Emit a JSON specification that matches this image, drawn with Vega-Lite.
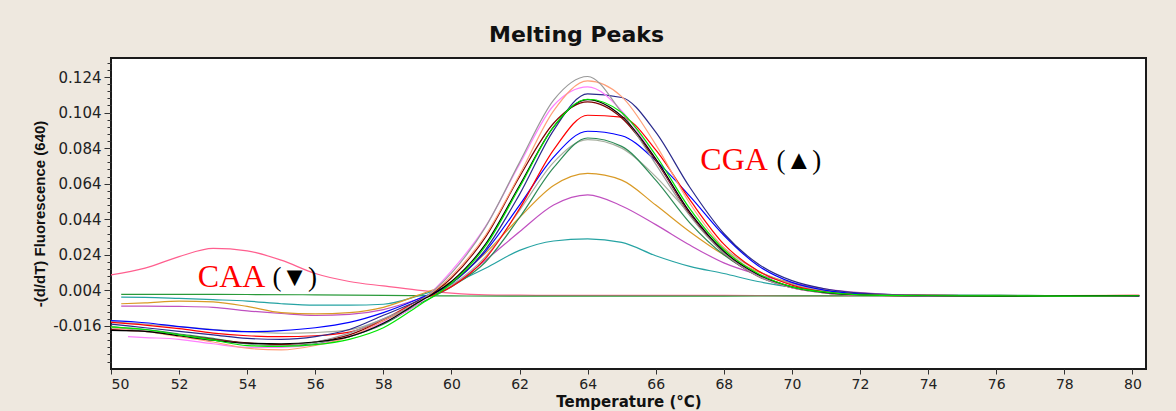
{
"$schema": "https://vega.github.io/schema/vega-lite/v6.json",
"width": 1035, "height": 311,
"autosize": {"type": "none"},
"padding": {"left": 111, "top": 58, "right": 30, "bottom": 42},
"background": "#EEE8DF",
"title": {"text": "Melting Peaks", "anchor": "start", "frame": "group", "dx": 378, "dy": 21, "offset": 15, "baseline": "alphabetic", "font": "DejaVu Sans", "fontSize": 22, "fontWeight": "bold", "color": "#111111"},
"config": {"view": {"fill": "white", "stroke": "#1a1a1a", "strokeWidth": 2}},
"datasets": {
"curves": [
{"s":"hotpink","t":50,"v":0.0127},{"s":"hotpink","t":51,"v":0.0165},{"s":"hotpink","t":52,"v":0.023},{"s":"hotpink","t":53,"v":0.0276},{"s":"hotpink","t":54,"v":0.0262},{"s":"hotpink","t":55,"v":0.021},{"s":"hotpink","t":56,"v":0.0135},{"s":"hotpink","t":57,"v":0.009},{"s":"hotpink","t":58,"v":0.0065},{"s":"hotpink","t":59,"v":0.0042},{"s":"hotpink","t":60,"v":0.0025},{"s":"hotpink","t":61,"v":0.0015},{"s":"hotpink","t":62,"v":0.0013},{"s":"hotpink","t":64,"v":0.0012},{"s":"hotpink","t":66,"v":0.0012},{"s":"hotpink","t":68,"v":0.0012},{"s":"hotpink","t":70,"v":0.0009},{"s":"hotpink","t":72,"v":0.001},{"s":"hotpink","t":74,"v":0.0009},{"s":"hotpink","t":76,"v":0.001},{"s":"hotpink","t":78,"v":0.001},{"s":"hotpink","t":80.2,"v":0.0012},
{"s":"green","t":50.3,"v":0.0018},{"s":"green","t":52,"v":0.0018},{"s":"green","t":54,"v":0.0017},{"s":"green","t":56,"v":0.0015},{"s":"green","t":58,"v":0.0012},{"s":"green","t":60,"v":0.0009},{"s":"green","t":62,"v":0.0008},{"s":"green","t":64,"v":0.0008},{"s":"green","t":66,"v":0.0008},{"s":"green","t":68,"v":0.0008},{"s":"green","t":70,"v":0.0009},{"s":"green","t":72,"v":0.0009},{"s":"green","t":74,"v":0.0008},{"s":"green","t":76,"v":0.0009},{"s":"green","t":78,"v":0.0009},{"s":"green","t":80.2,"v":0.0009},
{"s":"teal","t":50.3,"v":0.0002},{"s":"teal","t":51,"v":0.0001},{"s":"teal","t":52,"v":-0.0005},{"s":"teal","t":53,"v":-0.0012},{"s":"teal","t":54,"v":-0.002},{"s":"teal","t":55,"v":-0.0035},{"s":"teal","t":56,"v":-0.0043},{"s":"teal","t":57,"v":-0.0043},{"s":"teal","t":58,"v":-0.0038},{"s":"teal","t":59,"v":0.0008},{"s":"teal","t":60,"v":0.0075},{"s":"teal","t":61,"v":0.0165},{"s":"teal","t":62,"v":0.0265},{"s":"teal","t":63,"v":0.0318},{"s":"teal","t":64,"v":0.033},{"s":"teal","t":65,"v":0.031},{"s":"teal","t":66,"v":0.0235},{"s":"teal","t":67,"v":0.0175},{"s":"teal","t":68,"v":0.0135},{"s":"teal","t":69,"v":0.009},{"s":"teal","t":70,"v":0.0058},{"s":"teal","t":71,"v":0.0038},{"s":"teal","t":72,"v":0.0025},{"s":"teal","t":74,"v":0.0013},{"s":"teal","t":76,"v":0.0011},{"s":"teal","t":78,"v":0.001},{"s":"teal","t":80.2,"v":0.001},
{"s":"orchid","t":50.3,"v":-0.0048},{"s":"orchid","t":51,"v":-0.0048},{"s":"orchid","t":52,"v":-0.005},{"s":"orchid","t":53,"v":-0.0055},{"s":"orchid","t":54,"v":-0.0075},{"s":"orchid","t":55,"v":-0.009},{"s":"orchid","t":56,"v":-0.0101},{"s":"orchid","t":57,"v":-0.0095},{"s":"orchid","t":58,"v":-0.0068},{"s":"orchid","t":59,"v":-0.001},{"s":"orchid","t":60,"v":0.0065},{"s":"orchid","t":61,"v":0.021},{"s":"orchid","t":62,"v":0.037},{"s":"orchid","t":63,"v":0.052},{"s":"orchid","t":64,"v":0.0577},{"s":"orchid","t":65,"v":0.0515},{"s":"orchid","t":66,"v":0.041},{"s":"orchid","t":67,"v":0.0295},{"s":"orchid","t":68,"v":0.0195},{"s":"orchid","t":69,"v":0.013},{"s":"orchid","t":70,"v":0.0082},{"s":"orchid","t":71,"v":0.0048},{"s":"orchid","t":72,"v":0.0028},{"s":"orchid","t":74,"v":0.0012},{"s":"orchid","t":76,"v":0.001},{"s":"orchid","t":78,"v":0.001},{"s":"orchid","t":80.2,"v":0.0011},
{"s":"goldenrod","t":50.3,"v":-0.0035},{"s":"goldenrod","t":51,"v":-0.003},{"s":"goldenrod","t":52,"v":-0.002},{"s":"goldenrod","t":53,"v":-0.0025},{"s":"goldenrod","t":54,"v":-0.005},{"s":"goldenrod","t":55,"v":-0.0085},{"s":"goldenrod","t":56,"v":-0.0092},{"s":"goldenrod","t":57,"v":-0.0085},{"s":"goldenrod","t":58,"v":-0.0055},{"s":"goldenrod","t":59,"v":0.0012},{"s":"goldenrod","t":60,"v":0.009},{"s":"goldenrod","t":61,"v":0.025},{"s":"goldenrod","t":62,"v":0.045},{"s":"goldenrod","t":63,"v":0.063},{"s":"goldenrod","t":64,"v":0.0698},{"s":"goldenrod","t":65,"v":0.066},{"s":"goldenrod","t":66,"v":0.052},{"s":"goldenrod","t":67,"v":0.037},{"s":"goldenrod","t":68,"v":0.024},{"s":"goldenrod","t":69,"v":0.0145},{"s":"goldenrod","t":70,"v":0.008},{"s":"goldenrod","t":71,"v":0.004},{"s":"goldenrod","t":72,"v":0.002},{"s":"goldenrod","t":74,"v":0.0012},{"s":"goldenrod","t":76,"v":0.001},{"s":"goldenrod","t":78,"v":0.0011},{"s":"goldenrod","t":80.2,"v":0.0012},
{"s":"graygreen","t":50,"v":-0.0136},{"s":"graygreen","t":51,"v":-0.015},{"s":"graygreen","t":52,"v":-0.0164},{"s":"graygreen","t":53,"v":-0.018},{"s":"graygreen","t":54,"v":-0.0192},{"s":"graygreen","t":55,"v":-0.0201},{"s":"graygreen","t":56,"v":-0.0197},{"s":"graygreen","t":57,"v":-0.0182},{"s":"graygreen","t":58,"v":-0.012},{"s":"graygreen","t":59,"v":-0.002},{"s":"graygreen","t":60,"v":0.007},{"s":"graygreen","t":61,"v":0.023},{"s":"graygreen","t":62,"v":0.049},{"s":"graygreen","t":63,"v":0.076},{"s":"graygreen","t":64,"v":0.0888},{"s":"graygreen","t":65,"v":0.084},{"s":"graygreen","t":66,"v":0.068},{"s":"graygreen","t":67,"v":0.047},{"s":"graygreen","t":68,"v":0.028},{"s":"graygreen","t":69,"v":0.015},{"s":"graygreen","t":70,"v":0.0075},{"s":"graygreen","t":71,"v":0.0035},{"s":"graygreen","t":72,"v":0.0018},{"s":"graygreen","t":74,"v":0.0012},{"s":"graygreen","t":76,"v":0.001},{"s":"graygreen","t":78,"v":0.0011},{"s":"graygreen","t":80.2,"v":0.001},
{"s":"seagreen","t":50,"v":-0.017},{"s":"seagreen","t":51,"v":-0.018},{"s":"seagreen","t":52,"v":-0.0205},{"s":"seagreen","t":53,"v":-0.023},{"s":"seagreen","t":54,"v":-0.026},{"s":"seagreen","t":55,"v":-0.027},{"s":"seagreen","t":56,"v":-0.026},{"s":"seagreen","t":57,"v":-0.022},{"s":"seagreen","t":58,"v":-0.015},{"s":"seagreen","t":59,"v":-0.004},{"s":"seagreen","t":60,"v":0.006},{"s":"seagreen","t":61,"v":0.02},{"s":"seagreen","t":62,"v":0.045},{"s":"seagreen","t":63,"v":0.073},{"s":"seagreen","t":64,"v":0.0897},{"s":"seagreen","t":65,"v":0.085},{"s":"seagreen","t":66,"v":0.066},{"s":"seagreen","t":67,"v":0.042},{"s":"seagreen","t":68,"v":0.024},{"s":"seagreen","t":69,"v":0.0125},{"s":"seagreen","t":70,"v":0.006},{"s":"seagreen","t":71,"v":0.003},{"s":"seagreen","t":72,"v":0.0015},{"s":"seagreen","t":74,"v":0.0012},{"s":"seagreen","t":76,"v":0.0013},{"s":"seagreen","t":78,"v":0.001},{"s":"seagreen","t":80.2,"v":0.0011},
{"s":"blue","t":50,"v":-0.013},{"s":"blue","t":51,"v":-0.0142},{"s":"blue","t":52,"v":-0.0164},{"s":"blue","t":53,"v":-0.0182},{"s":"blue","t":54,"v":-0.0192},{"s":"blue","t":55,"v":-0.0186},{"s":"blue","t":56,"v":-0.017},{"s":"blue","t":57,"v":-0.014},{"s":"blue","t":58,"v":-0.0085},{"s":"blue","t":59,"v":-0.001},{"s":"blue","t":60,"v":0.008},{"s":"blue","t":61,"v":0.026},{"s":"blue","t":62,"v":0.052},{"s":"blue","t":63,"v":0.079},{"s":"blue","t":64,"v":0.0935},{"s":"blue","t":65,"v":0.091},{"s":"blue","t":66,"v":0.077},{"s":"blue","t":67,"v":0.057},{"s":"blue","t":68,"v":0.035},{"s":"blue","t":69,"v":0.018},{"s":"blue","t":70,"v":0.0085},{"s":"blue","t":71,"v":0.004},{"s":"blue","t":72,"v":0.002},{"s":"blue","t":74,"v":0.0006},{"s":"blue","t":76,"v":0.0009},{"s":"blue","t":78,"v":0.001},{"s":"blue","t":80.2,"v":0.0007},
{"s":"red","t":50,"v":-0.014},{"s":"red","t":51,"v":-0.0155},{"s":"red","t":52,"v":-0.0175},{"s":"red","t":53,"v":-0.02},{"s":"red","t":54,"v":-0.0215},{"s":"red","t":55,"v":-0.022},{"s":"red","t":56,"v":-0.0215},{"s":"red","t":57,"v":-0.0195},{"s":"red","t":58,"v":-0.0125},{"s":"red","t":59,"v":-0.002},{"s":"red","t":60,"v":0.006},{"s":"red","t":61,"v":0.022},{"s":"red","t":62,"v":0.05},{"s":"red","t":63,"v":0.083},{"s":"red","t":64,"v":0.1025},{"s":"red","t":65,"v":0.1015},{"s":"red","t":66,"v":0.083},{"s":"red","t":67,"v":0.055},{"s":"red","t":68,"v":0.03},{"s":"red","t":69,"v":0.015},{"s":"red","t":70,"v":0.007},{"s":"red","t":71,"v":0.003},{"s":"red","t":72,"v":0.0015},{"s":"red","t":74,"v":0.001},{"s":"red","t":76,"v":0.0009},{"s":"red","t":78,"v":0.0007},{"s":"red","t":80.2,"v":0.001},
{"s":"maroon","t":50,"v":-0.018},{"s":"maroon","t":51,"v":-0.019},{"s":"maroon","t":52,"v":-0.021},{"s":"maroon","t":53,"v":-0.0235},{"s":"maroon","t":54,"v":-0.0255},{"s":"maroon","t":55,"v":-0.0265},{"s":"maroon","t":56,"v":-0.025},{"s":"maroon","t":57,"v":-0.021},{"s":"maroon","t":58,"v":-0.013},{"s":"maroon","t":59,"v":-0.003},{"s":"maroon","t":60,"v":0.011},{"s":"maroon","t":61,"v":0.034},{"s":"maroon","t":62,"v":0.068},{"s":"maroon","t":63,"v":0.098},{"s":"maroon","t":64,"v":0.11},{"s":"maroon","t":65,"v":0.101},{"s":"maroon","t":66,"v":0.077},{"s":"maroon","t":67,"v":0.047},{"s":"maroon","t":68,"v":0.025},{"s":"maroon","t":69,"v":0.012},{"s":"maroon","t":70,"v":0.0055},{"s":"maroon","t":71,"v":0.0025},{"s":"maroon","t":72,"v":0.0013},{"s":"maroon","t":74,"v":0.0012},{"s":"maroon","t":76,"v":0.001},{"s":"maroon","t":78,"v":0.0009},{"s":"maroon","t":80.2,"v":0.001},
{"s":"navy","t":50,"v":-0.015},{"s":"navy","t":51,"v":-0.017},{"s":"navy","t":52,"v":-0.019},{"s":"navy","t":53,"v":-0.021},{"s":"navy","t":54,"v":-0.023},{"s":"navy","t":55,"v":-0.0235},{"s":"navy","t":56,"v":-0.022},{"s":"navy","t":57,"v":-0.018},{"s":"navy","t":58,"v":-0.01},{"s":"navy","t":59,"v":-0.002},{"s":"navy","t":60,"v":0.008},{"s":"navy","t":61,"v":0.027},{"s":"navy","t":62,"v":0.058},{"s":"navy","t":63,"v":0.094},{"s":"navy","t":64,"v":0.1145},{"s":"navy","t":65,"v":0.1125},{"s":"navy","t":66,"v":0.093},{"s":"navy","t":67,"v":0.062},{"s":"navy","t":68,"v":0.036},{"s":"navy","t":69,"v":0.019},{"s":"navy","t":70,"v":0.0095},{"s":"navy","t":71,"v":0.0048},{"s":"navy","t":72,"v":0.0025},{"s":"navy","t":74,"v":0.0011},{"s":"navy","t":76,"v":0.001},{"s":"navy","t":78,"v":0.0008},{"s":"navy","t":80.2,"v":0.001},
{"s":"violet","t":50.5,"v":-0.022},{"s":"violet","t":51,"v":-0.0225},{"s":"violet","t":52,"v":-0.0235},{"s":"violet","t":53,"v":-0.026},{"s":"violet","t":54,"v":-0.028},{"s":"violet","t":55,"v":-0.028},{"s":"violet","t":56,"v":-0.0265},{"s":"violet","t":57,"v":-0.022},{"s":"violet","t":58,"v":-0.014},{"s":"violet","t":59,"v":-0.004},{"s":"violet","t":60,"v":0.015},{"s":"violet","t":61,"v":0.04},{"s":"violet","t":62,"v":0.075},{"s":"violet","t":63,"v":0.108},{"s":"violet","t":64,"v":0.1185},{"s":"violet","t":65,"v":0.105},{"s":"violet","t":66,"v":0.078},{"s":"violet","t":67,"v":0.048},{"s":"violet","t":68,"v":0.026},{"s":"violet","t":69,"v":0.0125},{"s":"violet","t":70,"v":0.0055},{"s":"violet","t":71,"v":0.0025},{"s":"violet","t":72,"v":0.0012},{"s":"violet","t":74,"v":0.0009},{"s":"violet","t":76,"v":0.001},{"s":"violet","t":78,"v":0.001},{"s":"violet","t":80.2,"v":0.0012},
{"s":"salmon","t":50,"v":-0.017},{"s":"salmon","t":51,"v":-0.019},{"s":"salmon","t":52,"v":-0.022},{"s":"salmon","t":53,"v":-0.025},{"s":"salmon","t":54,"v":-0.0285},{"s":"salmon","t":55,"v":-0.0295},{"s":"salmon","t":56,"v":-0.027},{"s":"salmon","t":57,"v":-0.022},{"s":"salmon","t":58,"v":-0.013},{"s":"salmon","t":59,"v":-0.003},{"s":"salmon","t":60,"v":0.012},{"s":"salmon","t":61,"v":0.035},{"s":"salmon","t":62,"v":0.069},{"s":"salmon","t":63,"v":0.105},{"s":"salmon","t":64,"v":0.1218},{"s":"salmon","t":65,"v":0.113},{"s":"salmon","t":66,"v":0.086},{"s":"salmon","t":67,"v":0.053},{"s":"salmon","t":68,"v":0.028},{"s":"salmon","t":69,"v":0.0135},{"s":"salmon","t":70,"v":0.006},{"s":"salmon","t":71,"v":0.0028},{"s":"salmon","t":72,"v":0.0015},{"s":"salmon","t":74,"v":0.001},{"s":"salmon","t":76,"v":0.0011},{"s":"salmon","t":78,"v":0.0009},{"s":"salmon","t":80.2,"v":0.0012},
{"s":"gray","t":50,"v":-0.016},{"s":"gray","t":51,"v":-0.019},{"s":"gray","t":52,"v":-0.021},{"s":"gray","t":53,"v":-0.024},{"s":"gray","t":54,"v":-0.026},{"s":"gray","t":55,"v":-0.027},{"s":"gray","t":56,"v":-0.025},{"s":"gray","t":57,"v":-0.02},{"s":"gray","t":58,"v":-0.012},{"s":"gray","t":59,"v":-0.003},{"s":"gray","t":60,"v":0.0137},{"s":"gray","t":61,"v":0.0396},{"s":"gray","t":62,"v":0.076},{"s":"gray","t":63,"v":0.111},{"s":"gray","t":64,"v":0.1243},{"s":"gray","t":65,"v":0.104},{"s":"gray","t":66,"v":0.075},{"s":"gray","t":67,"v":0.046},{"s":"gray","t":68,"v":0.025},{"s":"gray","t":69,"v":0.012},{"s":"gray","t":70,"v":0.0055},{"s":"gray","t":71,"v":0.0025},{"s":"gray","t":72,"v":0.0015},{"s":"gray","t":74,"v":0.0012},{"s":"gray","t":76,"v":0.001},{"s":"gray","t":78,"v":0.0009},{"s":"gray","t":80.2,"v":0.0011},
{"s":"black","t":50,"v":-0.0185},{"s":"black","t":51,"v":-0.019},{"s":"black","t":52,"v":-0.0215},{"s":"black","t":53,"v":-0.024},{"s":"black","t":54,"v":-0.0257},{"s":"black","t":55,"v":-0.026},{"s":"black","t":56,"v":-0.025},{"s":"black","t":57,"v":-0.022},{"s":"black","t":58,"v":-0.0145},{"s":"black","t":59,"v":-0.003},{"s":"black","t":60,"v":0.009},{"s":"black","t":61,"v":0.03},{"s":"black","t":62,"v":0.063},{"s":"black","t":63,"v":0.096},{"s":"black","t":64,"v":0.1113},{"s":"black","t":65,"v":0.102},{"s":"black","t":66,"v":0.078},{"s":"black","t":67,"v":0.048},{"s":"black","t":68,"v":0.026},{"s":"black","t":69,"v":0.013},{"s":"black","t":70,"v":0.006},{"s":"black","t":71,"v":0.0028},{"s":"black","t":72,"v":0.0015},{"s":"black","t":74,"v":0.001},{"s":"black","t":76,"v":0.0008},{"s":"black","t":78,"v":0.0009},{"s":"black","t":80.2,"v":0.0011},
{"s":"lime","t":50,"v":-0.0165},{"s":"lime","t":51,"v":-0.018},{"s":"lime","t":52,"v":-0.021},{"s":"lime","t":53,"v":-0.024},{"s":"lime","t":54,"v":-0.027},{"s":"lime","t":55,"v":-0.0275},{"s":"lime","t":56,"v":-0.0265},{"s":"lime","t":57,"v":-0.0235},{"s":"lime","t":58,"v":-0.017},{"s":"lime","t":59,"v":-0.005},{"s":"lime","t":60,"v":0.008},{"s":"lime","t":61,"v":0.029},{"s":"lime","t":62,"v":0.062},{"s":"lime","t":63,"v":0.096},{"s":"lime","t":64,"v":0.1115},{"s":"lime","t":65,"v":0.104},{"s":"lime","t":66,"v":0.08},{"s":"lime","t":67,"v":0.05},{"s":"lime","t":68,"v":0.027},{"s":"lime","t":69,"v":0.0135},{"s":"lime","t":70,"v":0.006},{"s":"lime","t":71,"v":0.003},{"s":"lime","t":72,"v":0.0015},{"s":"lime","t":74,"v":0.001},{"s":"lime","t":76,"v":0.0009},{"s":"lime","t":78,"v":0.0008},{"s":"lime","t":80.2,"v":0.001}
],
"genes": [
{"label":"CGA","t":67.31,"v":0.0775},
{"label":"CAA","t":52.55,"v":0.0118}
],
"marks": [
{"label":"(▲)","t":69.55,"v":0.0768},
{"label":"(▼)","t":54.74,"v":0.0112}
]
},
"layer": [
{
"data": {"name": "curves"},
"mark": {"type": "line", "interpolate": "monotone", "strokeWidth": 1.2, "clip": true},
"encoding": {
"x": {"field": "t", "type": "quantitative",
 "scale": {"domain": [50, 80.4], "nice": false, "zero": false},
 "axis": {"values": [50,52,54,56,58,60,62,64,66,68,70,72,74,76,78,80], "format": "d", "grid": false, "domain": false,
  "tickSize": 5, "tickColor": "#333333", "labelFont": "DejaVu Sans", "labelFontSize": 14, "labelColor": "#222222", "labelPadding": 3,
  "title": "Temperature (°C)", "titleFont": "DejaVu Sans", "titleFontSize": 15, "titleFontWeight": "bold", "titleColor": "#111111", "titlePadding": 3}},
"y": {"field": "v", "type": "quantitative",
 "scale": {"domain": [-0.0402, 0.1347], "nice": false, "zero": false},
 "axis": {"orient": "left", "values": [-0.016, 0.004, 0.024, 0.044, 0.064, 0.084, 0.104, 0.124], "format": ".3f",
  "labelExpr": "replace(datum.label, '−', '-')", "grid": false, "domain": false,
  "tickSize": 7, "tickColor": "#333333", "labelFont": "DejaVu Sans", "labelFontSize": 15, "labelColor": "#222222", "labelPadding": 3,
  "title": "-(d/dT) Fluorescence (640)", "titleFont": "Liberation Sans", "titleFontSize": 15, "titleFontWeight": "bold", "titleColor": "#111111", "titlePadding": 5}},
"color": {"field": "s", "type": "nominal", "legend": null,
 "scale": {"domain": ["hotpink","green","teal","orchid","goldenrod","graygreen","seagreen","blue","red","maroon","navy","violet","salmon","gray","black","lime"],
  "range": ["#ff5f8f","#2a9a3a","#26a3a3","#c050c0","#d99a26","#a8b0a0","#2e8b57","#0000ff","#ff0000","#800000","#2a2a8c","#ff80ff","#ffa07a","#999999","#000000","#00e600"]}}
}
},
{
"data": {"name": "genes"},
"mark": {"type": "text", "align": "left", "baseline": "middle", "font": "Liberation Serif", "fontSize": 32, "color": "#ff0000"},
"encoding": {
"x": {"field": "t", "type": "quantitative"},
"y": {"field": "v", "type": "quantitative",
 "axis": {"orient": "left", "values": [-0.036,-0.032,-0.028,-0.024,-0.02,-0.012,-0.008,-0.004,0,0.008,0.012,0.016,0.02,0.028,0.032,0.036,0.04,0.048,0.052,0.056,0.06,0.068,0.072,0.076,0.08,0.088,0.092,0.096,0.1,0.108,0.112,0.116,0.12,0.128,0.132],
  "labels": false, "domain": false, "grid": false, "tickSize": 4, "tickColor": "#333333", "title": null}},
"text": {"field": "label"}
}
},
{
"data": {"name": "marks"},
"mark": {"type": "text", "align": "left", "baseline": "middle", "font": "Liberation Serif", "fontSize": 27, "color": "#000000"},
"encoding": {
"x": {"field": "t", "type": "quantitative"},
"y": {"field": "v", "type": "quantitative", "axis": null},
"text": {"field": "label"}
}
}
],
"resolve": {"axis": {"y": "independent"}}
}
